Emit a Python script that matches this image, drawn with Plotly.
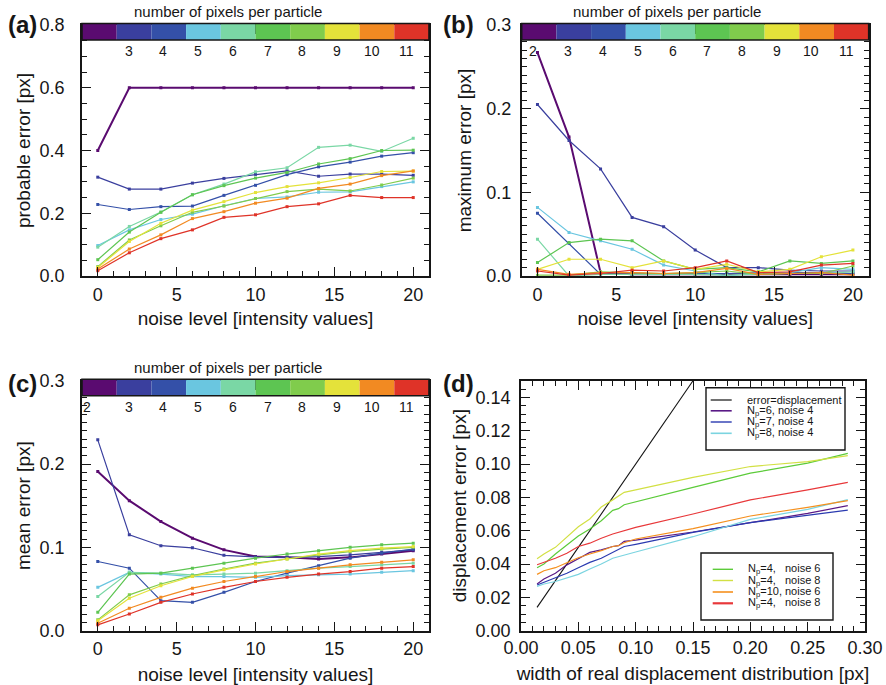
import plotly.graph_objects as go

W, H = 886, 685

# ---------------- data ----------------
noise = [0, 2, 4, 6, 8, 10, 12, 14, 16, 18, 20]
n_pixels = [2, 3, 4, 5, 6, 7, 8, 9, 10, 11]
pix_colors = ["#5A0B70", "#3A3F9E", "#3450A8", "#6AC6E0", "#7AD7A5",
              "#5DC552", "#80CC4C", "#E4E23A", "#F28A22", "#DF3328"]

# (a) probable error [px]
a_np2 = [0.400, 0.600, 0.600, 0.600, 0.600, 0.600, 0.600, 0.600, 0.600, 0.600, 0.600]
a_np3 = [0.315, 0.277, 0.277, 0.296, 0.311, 0.324, 0.335, 0.318, 0.325, 0.325, 0.321]
a_np4 = [0.228, 0.212, 0.221, 0.223, 0.257, 0.289, 0.323, 0.348, 0.363, 0.382, 0.393]
a_np5 = [0.097, 0.147, 0.180, 0.197, 0.224, 0.247, 0.252, 0.267, 0.268, 0.285, 0.300]
a_np6 = [0.092, 0.158, 0.204, 0.259, 0.293, 0.332, 0.345, 0.410, 0.417, 0.397, 0.439]
a_np7 = [0.052, 0.140, 0.203, 0.259, 0.288, 0.312, 0.330, 0.357, 0.374, 0.400, 0.401]
a_np8 = [0.030, 0.115, 0.160, 0.203, 0.223, 0.247, 0.269, 0.277, 0.271, 0.290, 0.312]
a_np9 = [0.027, 0.110, 0.168, 0.210, 0.237, 0.266, 0.285, 0.297, 0.314, 0.333, 0.334]
a_np10 = [0.022, 0.086, 0.131, 0.183, 0.205, 0.232, 0.248, 0.279, 0.293, 0.320, 0.335]
a_np11 = [0.017, 0.074, 0.119, 0.147, 0.187, 0.195, 0.221, 0.230, 0.257, 0.250, 0.250]

# (b) maximum error [px]
b_np2 = [0.267, 0.166, 0.004, 0.002, 0.002, 0.002, 0.002, 0.002, 0.002, 0.002, 0.002]
b_np3 = [0.205, 0.162, 0.128, 0.070, 0.059, 0.031, 0.010, 0.010, 0.007, 0.006, 0.006]
b_np4 = [0.075, 0.039, 0.002, 0.002, 0.002, 0.003, 0.003, 0.004, 0.004, 0.004, 0.003]
b_np5 = [0.082, 0.052, 0.042, 0.032, 0.013, 0.006, 0.000, 0.004, 0.004, 0.010, 0.008]
b_np6 = [0.044, 0.000, 0.002, 0.002, 0.002, 0.002, 0.001, 0.002, 0.003, 0.003, 0.005]
b_np7 = [0.016, 0.040, 0.044, 0.042, 0.018, 0.008, 0.010, 0.005, 0.018, 0.015, 0.018]
b_np8 = [0.001, 0.001, 0.005, 0.004, 0.003, 0.004, 0.006, 0.002, 0.003, 0.003, 0.012]
b_np9 = [0.008, 0.020, 0.020, 0.010, 0.018, 0.008, 0.014, 0.005, 0.008, 0.023, 0.031]
b_np10 = [0.008, 0.002, 0.004, 0.004, 0.003, 0.004, 0.009, 0.002, 0.003, 0.004, 0.001]
b_np11 = [0.006, 0.001, 0.003, 0.007, 0.006, 0.010, 0.018, 0.004, 0.005, 0.013, 0.015]

# (c) mean error [px]
c_np2 = [0.191, 0.156, 0.131, 0.111, 0.097, 0.089, 0.088, 0.086, 0.088, 0.092, 0.096]
c_np3 = [0.229, 0.115, 0.102, 0.0995, 0.0905, 0.0885, 0.088, 0.089, 0.091, 0.094, 0.097]
c_np4 = [0.083, 0.075, 0.036, 0.034, 0.046, 0.059, 0.069, 0.078, 0.087, 0.093, 0.098]
c_np5 = [0.052, 0.070, 0.068, 0.065, 0.065, 0.064, 0.066, 0.067, 0.068, 0.070, 0.072]
c_np6 = [0.041, 0.070, 0.069, 0.067, 0.068, 0.069, 0.072, 0.075, 0.077, 0.079, 0.081]
c_np7 = [0.022, 0.068, 0.069, 0.075, 0.081, 0.087, 0.092, 0.096, 0.100, 0.103, 0.105]
c_np8 = [0.013, 0.043, 0.056, 0.066, 0.074, 0.081, 0.086, 0.091, 0.095, 0.098, 0.100]
c_np9 = [0.012, 0.039, 0.054, 0.065, 0.073, 0.080, 0.086, 0.092, 0.096, 0.099, 0.101]
c_np10 = [0.009, 0.027, 0.040, 0.051, 0.059, 0.065, 0.071, 0.075, 0.079, 0.082, 0.085]
c_np11 = [0.007, 0.020, 0.034, 0.044, 0.052, 0.059, 0.064, 0.068, 0.071, 0.075, 0.077]

# (d) displacement error vs width of real displacement distribution
width = [0.014, 0.02, 0.03, 0.04, 0.05, 0.06, 0.07, 0.08, 0.085, 0.09, 0.10, 0.15, 0.20, 0.25, 0.285]
d_np6_n4 = [0.0280, 0.0310, 0.0345, 0.0395, 0.0432, 0.0470, 0.0485, 0.0505, 0.0510, 0.0536, 0.0544, 0.0592, 0.0648, 0.0704, 0.0750]
d_np7_n4 = [0.0274, 0.0290, 0.0315, 0.0345, 0.0378, 0.0410, 0.0435, 0.0470, 0.0485, 0.0505, 0.0518, 0.0590, 0.0648, 0.0694, 0.0724]
d_np8_n4 = [0.0266, 0.0280, 0.0295, 0.0315, 0.0338, 0.0370, 0.0400, 0.0435, 0.0445, 0.0455, 0.0472, 0.0564, 0.0668, 0.0728, 0.0786]
d_np4_n6 = [0.0378, 0.0400, 0.0460, 0.0515, 0.0568, 0.0610, 0.0660, 0.0722, 0.0732, 0.0756, 0.0774, 0.0860, 0.0945, 0.1005, 0.1064]
d_np4_n8 = [0.0432, 0.0460, 0.0500, 0.0560, 0.0624, 0.0670, 0.0742, 0.0785, 0.0810, 0.0830, 0.0845, 0.0920, 0.0985, 0.1015, 0.1050]
d_np10_n6 = [0.0338, 0.0360, 0.0378, 0.0410, 0.0438, 0.0460, 0.0480, 0.0505, 0.0510, 0.0528, 0.0550, 0.0612, 0.0688, 0.0740, 0.0780]
d_np4_n8b = [0.0396, 0.0410, 0.0435, 0.0465, 0.0505, 0.0525, 0.0555, 0.0580, 0.0590, 0.0602, 0.0620, 0.0700, 0.0785, 0.0845, 0.0890]
ident_x = [0.014, 0.15]

legend_top_labels = ["error=displacement", "N<sub>p</sub>=6, noise 4",
                     "N<sub>p</sub>=7, noise 4", "N<sub>p</sub>=8, noise 4"]
legend_top_colors = ["#111111", "#5A1A86", "#2A3AB0", "#7BD4E0"]
legend_bot_labels = ["N<sub>p</sub>=4,\u00a0\u00a0 noise 6", "N<sub>p</sub>=4,\u00a0\u00a0 noise 8",
                     "N<sub>p</sub>=10, noise 6", "N<sub>p</sub>=4,\u00a0\u00a0 noise 8"]
legend_bot_colors = ["#5CCB3A", "#D2E044", "#F5901E", "#E8383A"]

# ---------------- layout helpers ----------------
FONT = "Liberation Sans, Arial, Helvetica, sans-serif"
INK = "#161616"


def px_x(x):
    return x / W


def px_y(y):
    return 1 - y / H


panels = {
    "a": dict(x=(82, 429), y=(25, 276)),
    "b": dict(x=(521.7, 868.7), y=(25, 276)),
    "c": dict(x=(82, 429), y=(380.7, 630.7)),
    "d": dict(x=(521, 865), y=(380.7, 630.7)),
}


def axis(dom, rng, dtick, minor, fmt, standoff=4, title=None, tstand=8, horiz=True):
    lo, hi = dom
    d = dict(
        domain=[px_x(lo), px_x(hi)] if horiz else [px_y(hi), px_y(lo)],
        range=rng, autorange=False, tick0=0, dtick=dtick, tickformat=fmt,
        showline=True, linecolor=INK, linewidth=1.6, mirror="allticks",
        ticks="inside", ticklen=9, tickwidth=1.3, tickcolor=INK,
        showgrid=False, zeroline=False, automargin=False,
        tickfont=dict(size=18, color=INK, family=FONT),
        ticklabelstandoff=standoff,
        minor=dict(dtick=minor, tick0=0, ticks="inside", ticklen=5,
                   tickwidth=1, tickcolor=INK, showgrid=False),
    )
    if title:
        d["title"] = dict(text=title, font=dict(size=19, color=INK, family=FONT),
                          standoff=tstand)
    return d


fig = go.Figure()

series_a = [a_np2, a_np3, a_np4, a_np5, a_np6, a_np7, a_np8, a_np9, a_np10, a_np11]
series_b = [b_np2, b_np3, b_np4, b_np5, b_np6, b_np7, b_np8, b_np9, b_np10, b_np11]
series_c = [c_np2, c_np3, c_np4, c_np5, c_np6, c_np7, c_np8, c_np9, c_np10, c_np11]

for series, xa, ya in [(series_a, "x", "y"), (series_b, "x2", "y2"), (series_c, "x3", "y3")]:
    for n, vals, col in zip(n_pixels, series, pix_colors):
        fig.add_trace(go.Scatter(
            x=noise, y=vals, mode="lines+markers", xaxis=xa, yaxis=ya,
            line=dict(color=col, width=2.0 if n == 2 else 1.2),
            marker=dict(symbol="square", size=3, color=col),
            showlegend=False, cliponaxis=True, name=f"N={n}"))

# panel (d)
fig.add_trace(go.Scatter(x=ident_x, y=ident_x, mode="lines", xaxis="x4", yaxis="y4",
                         line=dict(color="#111111", width=1.1), showlegend=False))
for vals, col in zip([d_np6_n4, d_np7_n4, d_np8_n4],
                     legend_top_colors[1:]):
    fig.add_trace(go.Scatter(x=width, y=vals, mode="lines", xaxis="x4", yaxis="y4",
                             line=dict(color=col, width=1.2), showlegend=False))
for vals, col in zip([d_np4_n6, d_np4_n8, d_np10_n6, d_np4_n8b], legend_bot_colors):
    fig.add_trace(go.Scatter(x=width, y=vals, mode="lines", xaxis="x4", yaxis="y4",
                             line=dict(color=col, width=1.2), showlegend=False))

pa, pb, pc, pd = panels["a"], panels["b"], panels["c"], panels["d"]
fig.update_layout(
    width=W, height=H, margin=dict(l=0, r=0, t=0, b=0),
    paper_bgcolor="white", plot_bgcolor="white",
    font=dict(family=FONT, color=INK),
    xaxis=axis(pa["x"], [-1, 21], 5, 1, "d", 2, "noise level [intensity values]", 7.5),
    yaxis=axis(pa["y"], [0, 0.8], 0.2, 0.05, ".1f", 12, "probable error [px]", 4, horiz=False),
    xaxis2=axis(pb["x"], [-1, 21], 5, 1, "d", 2, "noise level [intensity values]", 7.5),
    yaxis2=axis(pb["y"], [0, 0.3], 0.1, 0.01, ".1f", 5, "maximum error [px]", 10, horiz=False),
    xaxis3=axis(pc["x"], [-1, 21], 5, 1, "d", 1, "noise level [intensity values]", 11),
    yaxis3=axis(pc["y"], [0, 0.3], 0.1, 0.01, ".1f", 12, "mean error [px]", 4, horiz=False),
    xaxis4=axis(pd["x"], [0, 0.3], 0.05, 0.01, ".2f", 0, "width of real displacement distribution [px]", 10),
    yaxis4=axis(pd["y"], [0, 0.15], 0.02, 0.005, ".2f", 5, "displacement error [px]", 4, horiz=False),
)
for i in ["", "2", "3", "4"]:
    fig.layout["xaxis" + i].anchor = "y" + i
    fig.layout["yaxis" + i].anchor = "x" + i

shapes = []
annotations = []

# colour bars with the number of pixels per particle (panels a-c)
for key, xa, ya, first_label_dx in [("a", "x", "y", None), ("b", "x2", "y2", 11.6), ("c", "x3", "y3", 4.5)]:
    p = panels[key]
    pw = p["x"][1] - p["x"][0]
    ph = p["y"][1] - p["y"][0]
    top = 1 + 1.5 / ph
    bot = 1 - 15 / ph
    nbin = len(n_pixels)
    for k, col in enumerate(pix_colors):
        shapes.append(dict(type="rect", xref=xa + " domain", yref=ya + " domain",
                           x0=k / nbin, x1=(k + 1) / nbin, y0=bot, y1=top,
                           fillcolor=col, line=dict(width=0), layer="above"))
    shapes.append(dict(type="rect", xref=xa + " domain", yref=ya + " domain",
                       x0=0, x1=1, y0=bot, y1=top, fillcolor="rgba(0,0,0,0)",
                       line=dict(color=INK, width=1.6), layer="above"))
    cell = pw / nbin
    for k, n in enumerate(n_pixels):
        if k == 0:
            if first_label_dx is None:
                continue
            dx = first_label_dx
        else:
            dx = cell * k + 12
        annotations.append(dict(xref=xa + " domain", yref=ya + " domain",
                                x=dx / pw, y=1 - 26.5 / ph, text=str(n), showarrow=False,
                                xanchor="center", yanchor="middle",
                                font=dict(size=14, color=INK, family=FONT)))
    annotations.append(dict(xref=xa + " domain", yref=ya + " domain",
                            x=0.5 - 28 / pw, y=1 + 13 / ph,
                            text="number of pixels per particle", showarrow=False,
                            xanchor="center", yanchor="middle",
                            font=dict(size=15, color=INK, family=FONT)))

# panel letters
for txt, cx, cy in [("(a)", 22.5, 25), ("(b)", 459, 25), ("(c)", 22.5, 383), ("(d)", 459, 383)]:
    annotations.append(dict(xref="paper", yref="paper", x=px_x(cx), y=px_y(cy),
                            text=f"<b>{txt}</b>", showarrow=False,
                            xanchor="center", yanchor="middle",
                            font=dict(size=24, color=INK, family=FONT)))


# legend boxes for panel (d)
def legend_box(box, line_x, text_x, rows, labels, colors, widths):
    x0, x1, y0, y1 = box
    shapes.append(dict(type="rect", xref="paper", yref="paper",
                       x0=px_x(x0), x1=px_x(x1), y0=px_y(y1), y1=px_y(y0),
                       fillcolor="white", line=dict(color=INK, width=1.4), layer="above"))
    for ry, lab, col, lw in zip(rows, labels, colors, widths):
        shapes.append(dict(type="line", xref="paper", yref="paper",
                           x0=px_x(line_x[0]), x1=px_x(line_x[1]), y0=px_y(ry), y1=px_y(ry),
                           line=dict(color=col, width=lw), layer="above"))
        annotations.append(dict(xref="paper", yref="paper", x=px_x(text_x), y=px_y(ry),
                                text=lab, showarrow=False, xanchor="left", yanchor="middle",
                                font=dict(size=11, color=INK, family=FONT)))


legend_box((706, 845, 387.7, 450), (710.7, 731.7), 745, [400, 410.8, 422, 433.3],
           legend_top_labels, legend_top_colors, [1.2, 1.6, 1.4, 1.6])
legend_box((701, 833, 553, 620), (712.7, 733), 746, [569.3, 580.5, 592, 603.3],
           legend_bot_labels, legend_bot_colors, [1.4, 1.4, 1.6, 2.2])

fig.update_layout(shapes=shapes, annotations=annotations)
fig.write_html("out.html")
